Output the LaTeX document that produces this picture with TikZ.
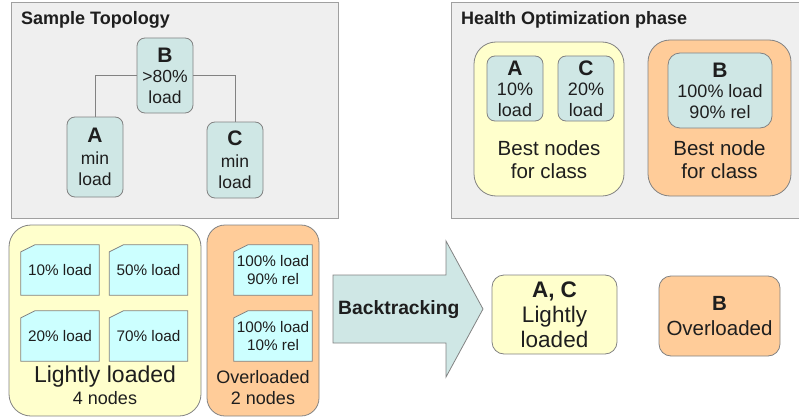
\documentclass[tikz,border=0pt]{standalone}
\usepackage{fontspec}
\setmainfont{Liberation Sans}
\usetikzlibrary{calc}
\definecolor{panelbg}{RGB}{239,239,239}
\definecolor{panelbd}{RGB}{160,160,160}
\definecolor{boxbd}{RGB}{130,130,130}
\definecolor{tealfill}{RGB}{207,231,229}
\definecolor{yelfill}{RGB}{255,255,204}
\definecolor{orgfill}{RGB}{255,204,153}
\definecolor{cardfill}{RGB}{204,255,255}
\definecolor{txt}{RGB}{30,30,30}
\tikzset{
  panel/.style={draw=panelbd, fill=panelbg, line width=1pt, inner sep=0pt},
  box/.style={draw=boxbd, line width=0.8pt, inner sep=0pt, align=center, text=txt},
  tnode/.style={box, fill=tealfill, rounded corners=8pt},
  yelbox/.style={box, fill=yelfill},
  orgbox/.style={box, fill=orgfill},
  cardbox/.style={inner sep=0pt, minimum width=78pt, minimum height=50pt},
  cardshape/.style={fill=cardfill, draw=boxbd, line width=0.8pt},
  cardtext/.style={inner sep=0pt, align=center, text=txt, font=\fontsize{15.3}{17.5}\selectfont},
  lbl/.style={inner sep=0pt, align=center, text=txt},
  conn/.style={draw=boxbd, line width=0.8pt},
}
\newcommand\mycard[3]{%
  \node[cardbox] (#1) at (#2) {};
  \filldraw[cardshape] ($(#1.north west)+(0,7)$) -- ($(#1.north west)+(14,0)$) -- (#1.north east)
     -- (#1.south east) -- (#1.south west) -- cycle;
  \node[cardtext] (#1t) at (#1.center) {#3};}
\begin{document}
\begin{tikzpicture}[x=1pt,y=-1pt]
\useasboundingbox (0,0) rectangle (799,417);
% panels
\node[panel, minimum width=327pt, minimum height=215pt] (panelL) at (174.5,110.5) {};
\node[panel, minimum width=350pt, minimum height=215pt] (panelR) at (626,110.5) {};
\node[lbl, anchor=base west, font=\fontsize{18}{20}\selectfont\bfseries] (titleL) at (21,25) {Sample Topology};
\node[lbl, anchor=base west, font=\fontsize{18}{20}\selectfont\bfseries] (titleR) at (461,25) {Health Optimization phase};
% topology
\node[tnode, minimum width=56pt, minimum height=75pt, font=\fontsize{17.5}{20.5}\selectfont] (tB) at (165,75.5)
  {{\fontsize{21}{20.5}\selectfont\bfseries B}\\>80\%\\load};
\node[tnode, minimum width=56pt, minimum height=80pt, font=\fontsize{17.5}{21.5}\selectfont] (tA) at (95,157)
  {{\fontsize{21}{21.5}\selectfont\bfseries A}\\min\\load};
\node[tnode, minimum width=56pt, minimum height=76pt, font=\fontsize{17.5}{21.5}\selectfont] (tC) at (235,160)
  {{\fontsize{21}{21.5}\selectfont\bfseries C}\\min\\load};
\draw[conn] (tB.west) -| (tA.north);
\draw[conn] (tB.east) -| (tC.north);
% health optimization
\node[yelbox, rounded corners=22pt, minimum width=150pt, minimum height=154pt] (hY) at (549,119) {};
\node[tnode, minimum width=56pt, minimum height=65pt, font=\fontsize{18}{20.5}\selectfont] (hA) at (515,88.5)
  {{\fontsize{21}{20.5}\selectfont\bfseries A}\\10\%\\load};
\node[tnode, minimum width=56pt, minimum height=65pt, font=\fontsize{18}{20.5}\selectfont] (hC) at (586,88.5)
  {{\fontsize{21}{20.5}\selectfont\bfseries C}\\20\%\\load};
\node[lbl, font=\fontsize{20.5}{23}\selectfont] (hYt) at (549,160) {Best nodes\\for class};
\node[orgbox, rounded corners=22pt, minimum width=143pt, minimum height=156pt] (hO) at (719.5,118) {};
\node[tnode, rounded corners=12pt, minimum width=104pt, minimum height=75pt, font=\fontsize{18}{20.5}\selectfont] (hB) at (720,90.5)
  {{\fontsize{21}{20.5}\selectfont\bfseries B}\\100\% load\\90\% rel};
\node[lbl, font=\fontsize{20.5}{23}\selectfont] (hOt) at (719.5,160) {Best node\\for class};
% bottom left groups
\node[yelbox, rounded corners=22pt, minimum width=192pt, minimum height=191pt] (gY) at (105,320.5) {};
\mycard{c1}{60,270}{10\% load}
\mycard{c2}{148.5,270}{50\% load}
\mycard{c3}{60,336}{20\% load}
\mycard{c4}{148.5,336}{70\% load}
\node[lbl, font=\fontsize{23}{25}\selectfont] (gYt) at (105,377) {Lightly loaded};
\node[lbl, font=\fontsize{18}{20}\selectfont] (gYn) at (105,398) {4 nodes};
\node[orgbox, rounded corners=18pt, minimum width=112pt, minimum height=191pt] (gO) at (263,320.5) {};
\mycard{c5}{273,270}{100\% load\\90\% rel}
\mycard{c6}{273,336}{100\% load\\10\% rel}
\node[lbl, font=\fontsize{18}{20.5}\selectfont] (gOt) at (263,387.5) {Overloaded\\2 nodes};
% backtracking arrow
\filldraw[draw=boxbd, fill=tealfill, line width=0.8pt]
  (333,275) -- (446,275) -- (446,241) -- (483,309) -- (446,377) -- (446,343) -- (333,343) -- cycle;
\node[lbl, anchor=west, font=\fontsize{19.3}{21}\selectfont\bfseries] (bt) at (338,310) {Backtracking};
% results
\node[yelbox, rounded corners=12pt, minimum width=125pt, minimum height=79pt, font=\fontsize{22.5}{25}\selectfont] (rY) at (554.5,314.5)
  {{\bfseries A, C}\\Lightly\\loaded};
\node[orgbox, rounded corners=12pt, minimum width=121pt, minimum height=80pt, font=\fontsize{20.5}{25}\selectfont] (rO) at (719.5,316)
  {{\bfseries B}\\Overloaded};
\end{tikzpicture}
\end{document}
